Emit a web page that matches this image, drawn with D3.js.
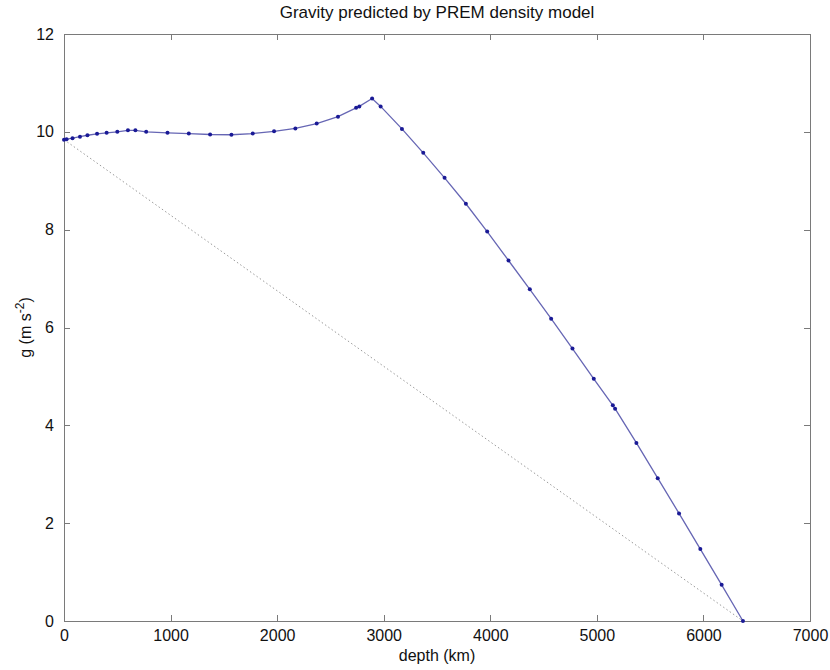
<!DOCTYPE html>
<html>
<head>
<meta charset="utf-8">
<script src="https://cdn.jsdelivr.net/npm/d3@7"></script>
<style>
	body { margin: 0; background: #fff; }
	svg { display: block; font-family: "Liberation Sans", Arial, sans-serif; }
	.axis path, .axis line { stroke: #7a7a7a; shape-rendering: crispEdges; }
	.axis text { fill: #111; font-size: 16px; }
</style>
</head>
<body>
<div id="chart"></div>
<script>
// PREM gravity profile
const depthKm = [0, 24, 80, 150, 220, 310, 400, 500, 600, 670, 771, 971, 1171, 1371, 1571, 1771, 1971, 2171, 2371, 2571, 2741, 2771, 2891,
	2971, 3171, 3371, 3571, 3771, 3971, 4171, 4371, 4571, 4771, 4971, 5150, 5171, 5371, 5571, 5771, 5971, 6171, 6371];
const gravity = [9.84, 9.85, 9.87, 9.90, 9.93, 9.96, 9.98, 10.00, 10.03, 10.03, 10.00, 9.98, 9.965, 9.945, 9.94, 9.965, 10.01, 10.07, 10.17, 10.31, 10.49, 10.52, 10.68,
	10.52, 10.06, 9.57, 9.06, 8.53, 7.96, 7.37, 6.78, 6.18, 5.57, 4.95, 4.41, 4.34, 3.64, 2.92, 2.20, 1.47, 0.74, 0];

// uniform-density reference (dotted)
const uniformDepth = [0, 6371];
const uniformG = [9.84, 0];

const xTicks = [0, 1000, 2000, 3000, 4000, 5000, 6000, 7000];
const yTicks = [0, 2, 4, 6, 8, 10, 12];

const width = 830, height = 670;
const margin = { top: 34, right: 20, bottom: 49, left: 64 };
const w = width - margin.left - margin.right;
const h = height - margin.top - margin.bottom;

const svg = d3.select('#chart').append('svg')
	.attr('width', width)
	.attr('height', height);

const g = svg.append('g')
	.attr('transform', `translate(${margin.left},${margin.top})`);

const xScale = d3.scaleLinear().domain([0, 7000]).range([0, w]);
const yScale = d3.scaleLinear().domain([0, 12]).range([h, 0]);

// axes, ticks pointing inward on all four sides
g.append('g')
	.attr('class', 'axis x')
	.attr('transform', `translate(0,${h})`)
	.call(d3.axisBottom(xScale).tickValues(xTicks).tickFormat(d3.format('d')).tickSize(-6).tickSizeOuter(0).tickPadding(9));
g.append('g')
	.attr('class', 'axis x2')
	.call(d3.axisTop(xScale).tickValues(xTicks).tickSize(-6).tickSizeOuter(0).tickFormat(''));
g.append('g')
	.attr('class', 'axis y')
	.call(d3.axisLeft(yScale).tickValues(yTicks).tickSize(-6).tickSizeOuter(0).tickPadding(10));
g.append('g')
	.attr('class', 'axis y2')
	.attr('transform', `translate(${w},0)`)
	.call(d3.axisRight(yScale).tickValues(yTicks).tickSize(-6).tickSizeOuter(0).tickFormat(''));

const line = d3.line()
	.x(d => xScale(d[0]))
	.y(d => yScale(d[1]));

g.append('path')
	.datum(d3.zip(uniformDepth, uniformG))
	.attr('fill', 'none')
	.attr('stroke', '#9a9a9a')
	.attr('stroke-width', 1)
	.attr('stroke-dasharray', '1.5,2.5')
	.attr('d', line);

const pts = d3.zip(depthKm, gravity);
g.append('path')
	.datum(pts)
	.attr('fill', 'none')
	.attr('stroke', '#6666b4')
	.attr('stroke-width', 1.3)
	.attr('d', line);

g.selectAll('.dot')
	.data(pts)
	.join('circle')
	.attr('class', 'dot')
	.attr('cx', d => xScale(d[0]))
	.attr('cy', d => yScale(d[1]))
	.attr('r', 2)
	.attr('fill', '#1a1a96');

// texts
svg.append('text')
	.attr('x', margin.left + w / 2)
	.attr('y', 18)
	.attr('text-anchor', 'middle')
	.attr('font-size', 17)
	.attr('fill', '#111')
	.text('Gravity predicted by PREM density model');

svg.append('text')
	.attr('x', margin.left + w / 2)
	.attr('y', 661)
	.attr('text-anchor', 'middle')
	.attr('font-size', 16)
	.attr('fill', '#111')
	.text('depth (km)');

const yl = svg.append('text')
	.attr('transform', `translate(31,${margin.top + h / 2}) rotate(-90)`)
	.attr('text-anchor', 'middle')
	.attr('font-size', 16)
	.attr('fill', '#111');
yl.append('tspan').text('g (m s');
yl.append('tspan').attr('baseline-shift', 'super').attr('font-size', 12).text('-2');
yl.append('tspan').text(')');
</script>
</body>
</html>
